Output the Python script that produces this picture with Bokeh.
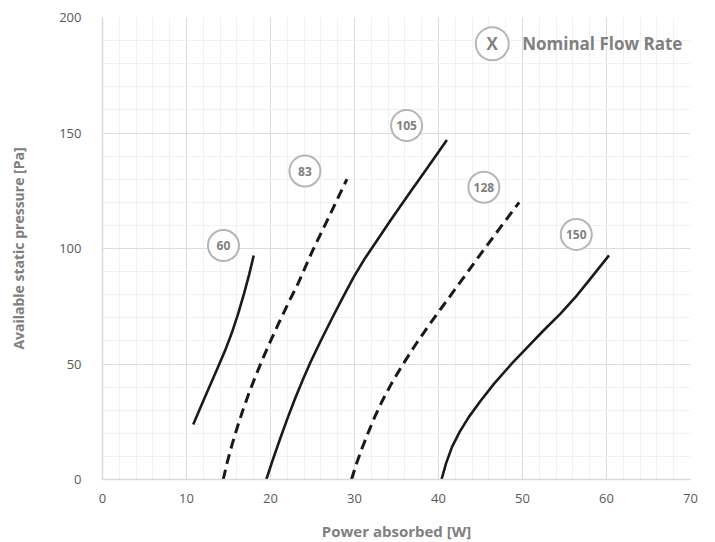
from bokeh.plotting import figure
from bokeh.models import Range1d, SingleIntervalTicker
from bokeh.embed import file_html
from bokeh.resources import INLINE
from bokeh.core.properties import value

# ---- data ----
q60_x = [10.8, 11.7, 12.65, 13.65, 14.6, 15.4, 16.15, 16.85, 17.45, 18.0]
q60_y = [23.8, 31.5, 39.5, 47.8, 55.9, 63.5, 71.8, 80.5, 88.6, 97.0]

q83_x = [14.37, 14.85, 15.45, 16.05, 16.7, 17.45, 18.25, 19.1, 20.05, 21.05, 22.1, 23.3, 25.0, 26.6, 29.1]
q83_y = [0.0, 7.5, 15.4, 22.6, 29.9, 37.5, 45.0, 52.5, 60.3, 68.2, 76.2, 85.0, 99.0, 111.0, 130.0]

q105_x = [19.5, 20.3, 21.2, 22.1, 23.0, 23.9, 24.8, 26.0, 27.3, 28.6, 29.9, 31.2, 32.5, 34.3, 36.2, 38.6, 41.0]
q105_y = [0.0, 8.8, 18.2, 27.2, 35.7, 43.6, 51.1, 60.2, 69.6, 78.7, 87.6, 95.5, 102.5, 112.2, 122.2, 134.5, 147.0]

q128_x = [29.64, 30.2, 30.9, 31.6, 32.4, 33.3, 34.4, 35.7, 37.2, 38.8, 40.5, 42.3, 45.5, 49.6]
q128_y = [0.0, 6.5, 13.5, 20.0, 27.0, 34.0, 41.5, 49.5, 58.0, 66.5, 75.0, 84.0, 100.0, 120.0]

q150_x = [40.36, 40.9, 41.6, 42.5, 43.6, 45.0, 46.6, 48.8, 50.6, 52.5, 54.5, 56.3, 57.9, 60.3]
q150_y = [0.0, 7.0, 14.0, 20.5, 27.0, 34.0, 41.4, 50.5, 57.3, 64.5, 71.7, 78.9, 86.1, 97.0]

flow_labels = ["60", "83", "105", "128", "150"]
flow_label_x = [14.4, 24.1, 36.2, 45.4, 56.4]
flow_label_y = [101.3, 133.5, 153.2, 126.5, 106.1]

legend_text = "Nominal Flow Rate"
x_title = "Power absorbed [W]"
y_title = "Available static pressure [Pa]"

FONT = "Open Sans"
GRAY = "#808080"

p = figure(frame_width=588, frame_height=462,
           x_range=Range1d(0, 70), y_range=Range1d(0, 200),
           output_backend="svg", toolbar_location=None,
           min_border_left=102, min_border_right=17,
           min_border_top=17, min_border_bottom=10)
p.outline_line_color = None
p.background_fill_color = "white"

xt = SingleIntervalTicker(interval=10, num_minor_ticks=5)
yt = SingleIntervalTicker(interval=50, num_minor_ticks=5)
p.xaxis.ticker = xt
p.yaxis.ticker = yt
p.xgrid.ticker = xt
p.ygrid.ticker = yt

for g in (p.xgrid, p.ygrid):
    g.grid_line_color = "#dcdcdc"
    g.grid_line_width = 1
    g.minor_grid_line_color = "#f1f1f1"
    g.minor_grid_line_width = 1

for ax in (p.xaxis, p.yaxis):
    ax.axis_line_color = "#d9d9d9"
    ax.axis_line_width = 1.5
    ax.major_tick_line_color = None
    ax.minor_tick_line_color = None
    ax.major_label_text_font = FONT
    ax.major_label_text_font_size = "13px"
    ax.major_label_text_color = "#595959"
    ax.axis_label_text_font = FONT
    ax.axis_label_text_font_style = "bold"
    ax.axis_label_text_color = GRAY

p.xaxis.axis_label_text_font_size = "15px"
p.yaxis.axis_label_text_font_size = "14px"
p.xaxis.axis_label = x_title
p.yaxis.axis_label = y_title
p.xaxis.major_label_standoff = 8
p.yaxis.major_label_standoff = 15
p.xaxis.axis_label_standoff = 15
p.yaxis.axis_label_standoff = 28

CURVE = "#1a1a1a"
for xs, ys, dash in [(q60_x, q60_y, "solid"), (q83_x, q83_y, "10 6"),
                     (q105_x, q105_y, "solid"), (q128_x, q128_y, "10 6"),
                     (q150_x, q150_y, "solid")]:
    p.line(xs, ys, line_color=CURVE, line_width=2.6 if dash == "solid" else 3,
           line_dash=dash, line_cap="butt", line_join="round")

# flow-rate markers
p.scatter(flow_label_x, flow_label_y, marker="circle", size=31,
          fill_color="white", line_color="#b5b5b5", line_width=2)
p.text(flow_label_x, flow_label_y, text=flow_labels, text_font=value(FONT),
       text_font_style="bold", text_font_size="12px", text_color=GRAY,
       text_align="center", text_baseline="middle")

# legend
lg_x, lg_y = 46.4, 188.6
p.scatter([lg_x], [lg_y], marker="circle", size=33, fill_color="white",
          line_color="#b5b5b5", line_width=2)
p.text([lg_x], [lg_y], text=["X"], text_font=value(FONT), text_font_style="bold",
       text_font_size="17px", text_color=GRAY, text_align="center",
       text_baseline="middle")
p.text([49.96], [lg_y], text=[legend_text], text_font=value(FONT),
       text_font_style="bold", text_font_size="17px", text_color=GRAY,
       text_align="left", text_baseline="middle")

open("out.html", "w").write(file_html(p, INLINE))
